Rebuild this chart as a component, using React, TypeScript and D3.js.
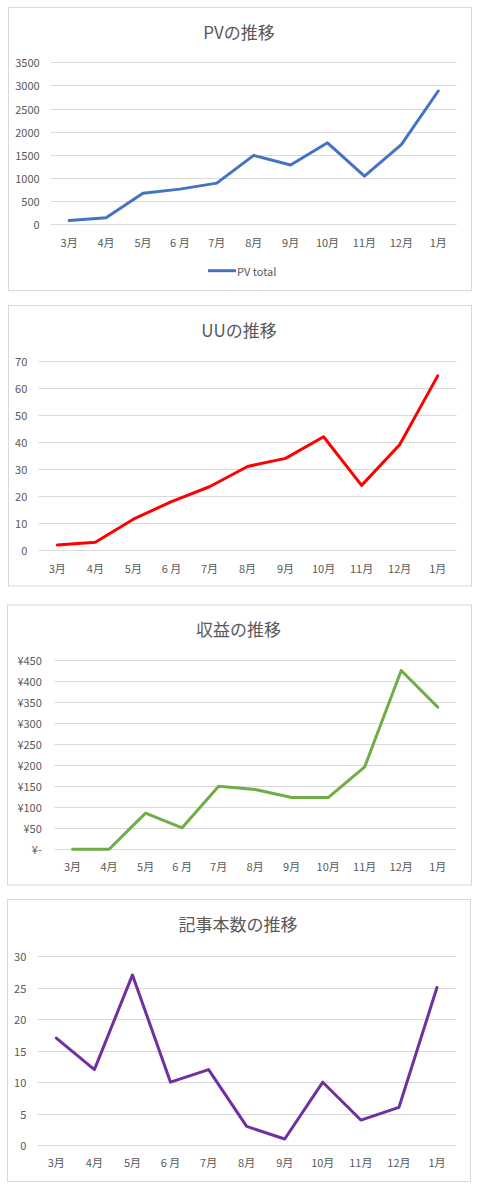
import React from "react";
import * as d3 from "d3";

const months = ["3月", "4月", "5月", "6 月", "7月", "8月", "9月", "10月", "11月", "12月", "1月"];

const pvTotal = [80, 140, 670, 760, 890, 1490, 1280, 1760, 1040, 1720, 2880];
const uuValues = [2, 3, 11.5, 18, 23.5, 31, 34, 42, 24, 39, 64.5];
const revenueValues = [0, 0, 86, 51, 150, 142, 123, 123, 196, 425, 338];
const articleValues = [17, 12, 27, 10, 12, 3, 1, 10, 4, 6, 25];

const pvTicks = [0, 500, 1000, 1500, 2000, 2500, 3000, 3500];
const uuTicks = [0, 10, 20, 30, 40, 50, 60, 70];
const revenueTicks = [0, 50, 100, 150, 200, 250, 300, 350, 400, 450];
const articleTicks = [0, 5, 10, 15, 20, 25, 30];

const titles = ["PVの推移", "UUの推移", "収益の推移", "記事本数の推移"];
const legendLabel = "PV total";

const FONT = "'Noto Sans CJK JP', 'Noto Sans', sans-serif";
const TEXT = "#595959";
const GRID = "#D9D9D9";

type Panel = {
  title: string;
  values: number[];
  ticks: number[];
  color: string;
  box: [number, number, number, number];
  plot: [number, number, number, number];
  titleY: number;
  xLabelY: number;
  labelGap: number;
  fmt: (v: number) => string;
  legend?: { x0: number; x1: number; y: number };
};

const yen = (v: number) => (v === 0 ? "¥-" : `¥${v}`);

const panels: Panel[] = [
  {
    title: titles[0], values: pvTotal, ticks: pvTicks, color: "#4472C4",
    box: [8.5, 7.5, 471.5, 290.5], plot: [50.7, 62.3, 456.7, 224.3],
    titleY: 31.7, xLabelY: 241.7, labelGap: 11, fmt: (v) => String(v),
    legend: { x0: 208, x1: 236, y: 270.7 },
  },
  {
    title: titles[1], values: uuValues, ticks: uuTicks, color: "#FF0000",
    box: [8.5, 305.5, 471.5, 586], plot: [38.3, 361, 456.7, 550.3],
    titleY: 329.3, xLabelY: 567.7, labelGap: 11, fmt: (v) => String(v),
  },
  {
    title: titles[2], values: revenueValues, ticks: revenueTicks, color: "#70AD47",
    box: [7.5, 605, 471.5, 885], plot: [54.3, 660, 456, 849.3],
    titleY: 628.3, xLabelY: 866, labelGap: 12.5, fmt: yen,
  },
  {
    title: titles[3], values: articleValues, ticks: articleTicks, color: "#7030A0",
    box: [7.5, 899.5, 470.5, 1181.5], plot: [37.3, 956, 456, 1145.3],
    titleY: 923.7, xLabelY: 1162.3, labelGap: 11, fmt: (v) => String(v),
  },
];

function ChartPanel({ p }: { p: Panel }) {
  const [px0, py0, px1, py1] = p.plot;
  const x = d3.scaleBand<string>().domain(months).range([px0, px1]).padding(0);
  const y = d3
    .scaleLinear()
    .domain([0, p.ticks[p.ticks.length - 1]])
    .range([py1, py0]);
  const line = d3
    .line<number>()
    .x((_, i) => (x(months[i]) as number) + x.bandwidth() / 2)
    .y((d) => y(d));
  const [bx0, by0, bx1, by1] = p.box;
  return (
    <g>
      <rect x={bx0} y={by0} width={bx1 - bx0} height={by1 - by0} fill="#fff" stroke={GRID} strokeWidth={1} />
      <text x={(bx0 + bx1) / 2 - 1} y={p.titleY} textAnchor="middle" dominantBaseline="central"
        fontSize={17} fill={TEXT} fontFamily={FONT}>{p.title}</text>
      {p.ticks.map((t) => (
        <g key={t}>
          <line x1={px0} x2={px1} y1={Math.round(y(t)) + 0.5} y2={Math.round(y(t)) + 0.5} stroke={GRID} strokeWidth={1} />
          <text x={px0 - p.labelGap} y={y(t)} textAnchor="end" dominantBaseline="central"
            fontSize={11} fill={TEXT} fontFamily={FONT}>{p.fmt(t)}</text>
        </g>
      ))}
      {months.map((m) => (
        <text key={m} x={(x(m) as number) + x.bandwidth() / 2} y={p.xLabelY} textAnchor="middle"
          dominantBaseline="central" fontSize={11} fill={TEXT} fontFamily={FONT}>{m}</text>
      ))}
      <path d={line(p.values) || ""} fill="none" stroke={p.color} strokeWidth={3}
        strokeLinejoin="round" strokeLinecap="round" />
      {p.legend && (
        <g>
          <line x1={p.legend.x0} x2={p.legend.x1} y1={p.legend.y} y2={p.legend.y} stroke={p.color} strokeWidth={3} />
          <text x={p.legend.x1 + 1} y={p.legend.y} dominantBaseline="central" fontSize={11}
            fill={TEXT} fontFamily={FONT}>{legendLabel}</text>
        </g>
      )}
    </g>
  );
}

export default function App() {
  return (
    <svg width={480} height={1193} style={{ position: "absolute", left: 0, top: 0, background: "#fff" }}>
      <rect x={0} y={0} width={480} height={1193} fill="#fff" />
      {panels.map((p) => (
        <ChartPanel key={p.title} p={p} />
      ))}
    </svg>
  );
}
